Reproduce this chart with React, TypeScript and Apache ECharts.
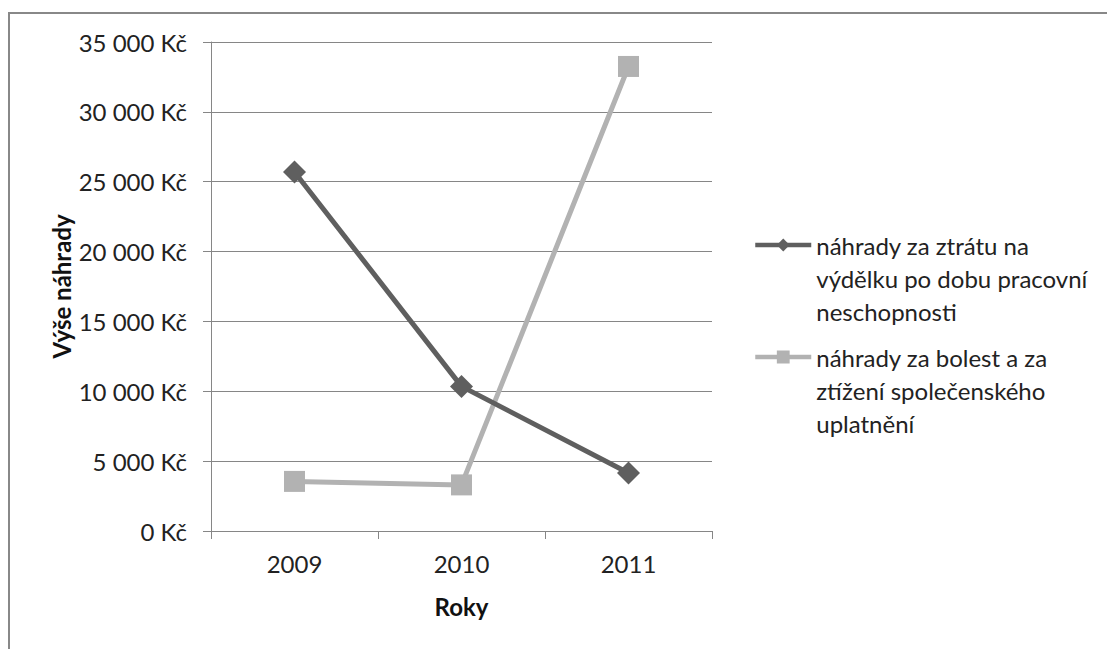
import React, { useEffect, useRef } from "react";
import * as echarts from "echarts";

const years = ["2009", "2010", "2011"];
const lossOfEarnings = [25700, 10350, 4150];
const painAndHandicap = [3550, 3300, 33250];
const seriesNames = [
  "náhrady za ztrátu na\nvýdělku po dobu pracovní\nneschopnosti",
  "náhrady za bolest a za\nztížení společenského\nuplatnění",
];
const yTitle = "Výše náhrady";
const xTitle = "Roky";

const FONT = "Lato";
const FS = 24;
const LH = 33;

export default function App() {
  const ref = useRef<HTMLDivElement>(null);
  useEffect(() => {
    if (!ref.current) return;
    const chart = echarts.init(ref.current, undefined, { renderer: "svg" });
    const fmt = (v: number) => {
      const s = String(Math.round(v));
      const withSp = s.replace(/\B(?=(\d{3})+(?!\d))/g, "\u00a0");
      return withSp + " Kč";
    };
    const legendText = {
      fontFamily: FONT,
      fontSize: FS,
      color: "#222",
      lineHeight: LH,
    };
    const mkLegend = (name: string, iconY: number) => ({
      data: [name],
      orient: "vertical",
      left: 753,
      top: iconY - 2.5 * LH,
      padding: 0,
      itemWidth: 56,
      itemHeight: 16,
      itemGap: 0,
      textStyle: legendText,
      lineStyle: { width: 4.5 },
      selectedMode: false,
      formatter: (n: string) => "\n\n" + n,
    });
    chart.setOption({
      animation: false,
      backgroundColor: "#fff",
      textStyle: { fontFamily: FONT },
      grid: { left: 211, right: 395, top: 42, height: 489 },
      xAxis: {
        type: "category",
        data: years,
        boundaryGap: true,
        axisLine: { lineStyle: { color: "#868686", width: 1 } },
        axisTick: { show: true, length: 8, lineStyle: { color: "#868686" } },
        axisLabel: { fontFamily: FONT, fontSize: FS, color: "#222", margin: 20 },
        name: xTitle,
        nameLocation: "middle",
        nameGap: 63,
        nameTextStyle: { fontFamily: FONT, fontSize: FS, fontWeight: "bold", color: "#111" },
      },
      yAxis: {
        type: "value",
        min: 0,
        max: 35000,
        interval: 5000,
        axisLine: { show: true, lineStyle: { color: "#868686", width: 1 } },
        axisTick: { show: true, length: 8, lineStyle: { color: "#868686" } },
        splitLine: { show: true, lineStyle: { color: "#868686", width: 1 } },
        axisLabel: { fontFamily: FONT, fontSize: FS, color: "#222", margin: 24, formatter: fmt },
        name: yTitle,
        nameLocation: "middle",
        nameGap: 138,
        nameRotate: 90,
        nameTextStyle: { fontFamily: FONT, fontSize: FS, fontWeight: "bold", color: "#111" },
      },
      legend: [mkLegend(seriesNames[0], 245), mkLegend(seriesNames[1], 357)],
      graphic: [
        {
          type: "rect",
          shape: { x: 9, y: 13, width: 1300, height: 1000 },
          style: { fill: "none", stroke: "#888", lineWidth: 2 },
          silent: true,
        },
      ],
      series: [
        {
          name: seriesNames[0],
          type: "line",
          data: lossOfEarnings,
          symbol: "diamond",
          symbolSize: 23,
          itemStyle: { color: "#5f5f5f" },
          lineStyle: { color: "#5f5f5f", width: 5 },
          z: 3,
        },
        {
          name: seriesNames[1],
          type: "line",
          data: painAndHandicap,
          symbol: "rect",
          symbolSize: 21,
          itemStyle: { color: "#b2b2b2" },
          lineStyle: { color: "#b2b2b2", width: 5 },
          z: 2,
        },
      ],
    });
    return () => chart.dispose();
  }, []);
  return (
    <div
      ref={ref}
      style={{ position: "fixed", left: 0, top: 0, width: 1107, height: 649 }}
    />
  );
}
